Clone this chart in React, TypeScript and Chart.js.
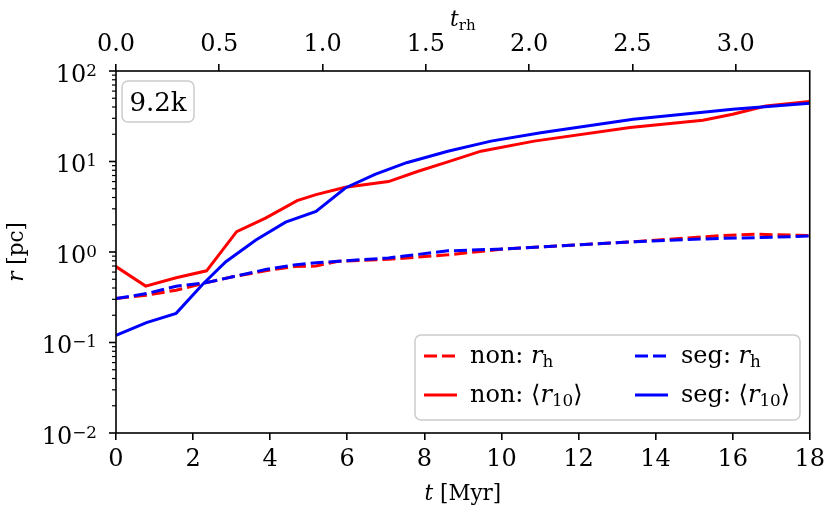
import { useEffect, useRef } from "react";
import { Chart, registerables } from "chart.js";

Chart.register(...registerables);

const FONT = '"DejaVu Serif"';
const T_RH = 5.36; // Myr per relaxation time (top axis)

// non-segregated: half-mass radius r_h
const nonRhTime = [0, 0.79, 1.56, 2.32, 3.0, 3.88, 4.62, 5.19, 5.77, 7.07, 8.61, 10.05, 13.45, 15.75, 16.6, 18];
const nonRh = [0.306, 0.333, 0.378, 0.456, 0.53, 0.62, 0.69, 0.7, 0.79, 0.83, 0.93, 1.08, 1.3, 1.52, 1.57, 1.52];

// non-segregated: <r_10>
const nonR10Time = [0, 0.77, 1.56, 2.35, 3.13, 3.88, 4.7, 5.19, 5.95, 7.07, 7.84, 8.61, 9.47, 10.85, 13.34, 15.23, 16.0, 16.86, 18];
const nonR10 = [0.69, 0.42, 0.52, 0.62, 1.68, 2.37, 3.69, 4.3, 5.2, 6.0, 7.8, 9.9, 13, 16.8, 23.7, 28.5, 33.3, 41, 46];

// segregated: r_h
const segRhTime = [0, 0.79, 1.56, 2.32, 3.0, 3.88, 4.62, 5.19, 5.77, 7.07, 8.61, 10.05, 13.45, 15.75, 16.6, 18];
const segRh = [0.306, 0.347, 0.419, 0.456, 0.53, 0.64, 0.72, 0.76, 0.79, 0.86, 1.03, 1.08, 1.3, 1.42, 1.44, 1.5];

// segregated: <r_10>
const segR10Time = [0, 0.79, 1.56, 2.25, 2.85, 3.63, 4.4, 5.19, 5.95, 6.72, 7.54, 8.61, 9.73, 11.02, 13.42, 16.0, 18];
const segR10 = [0.12, 0.166, 0.21, 0.44, 0.78, 1.36, 2.14, 2.8, 5.1, 7.2, 9.7, 13, 16.8, 20.8, 29.3, 37.8, 44];

const yDecades = [-2, -1, 0, 1, 2];

const TICK = 24;
const LABEL = 21.5;
const LEG = 24;
const DASH = [13, 5];

type Part = { text: string; italic?: boolean; size?: number; dy?: number };

// draw a run of text pieces (for math-like labels)
function measure(ctx: CanvasRenderingContext2D, parts: Part[], size: number) {
  let total = 0;
  for (const p of parts) {
    ctx.font = `${p.italic ? "italic " : ""}${p.size ?? size}px ${FONT}`;
    total += ctx.measureText(p.text).width;
  }
  return total;
}

function drawRich(ctx: CanvasRenderingContext2D, x: number, y: number, parts: Part[], size: number, align: "left" | "center" | "right") {
  const total = measure(ctx, parts, size);
  let cx = align === "left" ? x : align === "center" ? x - total / 2 : x - total;
  ctx.textAlign = "left";
  ctx.textBaseline = "alphabetic";
  for (const p of parts) {
    ctx.font = `${p.italic ? "italic " : ""}${p.size ?? size}px ${FONT}`;
    ctx.fillText(p.text, cx, y + (p.dy ?? 0));
    cx += ctx.measureText(p.text).width;
  }
}

const sub = LEG * 0.7;
const rh = (label: string): Part[] => [
  { text: label },
  { text: "r", italic: true },
  { text: "h", size: sub, dy: 4 },
];
const r10 = (label: string): Part[] => [
  { text: label + "\u27E8" },
  { text: "r", italic: true },
  { text: "10", size: sub, dy: 4 },
  { text: "\u27E9" },
];

const decor = {
  id: "decor",
  afterDraw(chart: Chart) {
    const { ctx, chartArea: a } = chart;
    const y = chart.scales.y;
    ctx.save();
    ctx.fillStyle = "#000";
    ctx.strokeStyle = "#000";

    // y ticks, major and minor, with 10^n labels
    for (const d of yDecades) {
      const py = y.getPixelForValue(Math.pow(10, d));
      ctx.lineWidth = 1.6;
      ctx.beginPath();
      ctx.moveTo(a.left - 7, py);
      ctx.lineTo(a.left, py);
      ctx.stroke();
      const exp: Part[] = [{ text: d < 0 ? "\u2212" + -d : String(d), size: TICK * 0.7 }];
      const ew = measure(ctx, exp, TICK);
      const right = a.left - 19;
      drawRich(ctx, right - ew, py + 7.5 - 3, exp, TICK, "left");
      drawRich(ctx, right - ew, py + 10.5, [{ text: "10" }], TICK, "right");
      if (d < 2) {
        ctx.lineWidth = 1.2;
        for (let m = 2; m <= 9; m++) {
          const pm = y.getPixelForValue(m * Math.pow(10, d));
          ctx.beginPath();
          ctx.moveTo(a.left - 4, pm);
          ctx.lineTo(a.left, pm);
          ctx.stroke();
        }
      }
    }

    // frame
    ctx.lineWidth = 1.6;
    ctx.strokeRect(a.left, a.top, a.right - a.left, a.bottom - a.top);

    // axis titles
    const cx = (a.left + a.right) / 2;
    drawRich(ctx, cx, 500, [{ text: "t", italic: true }, { text: " [Myr]" }], LABEL, "center");
    drawRich(ctx, cx, 26, [{ text: "t", italic: true }, { text: "rh", size: LABEL * 0.7, dy: 4 }], LABEL, "center");
    ctx.save();
    ctx.translate(23, (a.top + a.bottom) / 2);
    ctx.rotate(-Math.PI / 2);
    drawRich(ctx, 0, 0, [{ text: "r", italic: true }, { text: " [pc]" }], LABEL, "center");
    ctx.restore();

    // run label box
    ctx.beginPath();
    ctx.roundRect(a.left + 6, a.top + 10, 72, 41, 6);
    ctx.fillStyle = "rgba(255,255,255,0.8)";
    ctx.fill();
    ctx.strokeStyle = "#cccccc";
    ctx.lineWidth = 1.5;
    ctx.stroke();
    ctx.fillStyle = "#000";
    drawRich(ctx, a.left + 42, a.top + 40, [{ text: "9.2k" }], 26, "center");

    // legend
    const lx = 415, ly = 335;
    ctx.beginPath();
    ctx.roundRect(lx, ly, 385, 85, 6);
    ctx.fillStyle = "rgba(255,255,255,0.8)";
    ctx.fill();
    ctx.strokeStyle = "#cccccc";
    ctx.lineWidth = 1.5;
    ctx.stroke();
    const entries = [
      { col: 0, row: 0, color: "#ff0000", dash: DASH, parts: rh("non: ") },
      { col: 0, row: 1, color: "#ff0000", dash: [], parts: r10("non: ") },
      { col: 1, row: 0, color: "#0000ff", dash: DASH, parts: rh("seg: ") },
      { col: 1, row: 1, color: "#0000ff", dash: [], parts: r10("seg: ") },
    ];
    for (const e of entries) {
      const ex = lx + 9 + e.col * 211;
      const ey = ly + 21 + e.row * 39;
      ctx.strokeStyle = e.color;
      ctx.lineWidth = 3;
      ctx.setLineDash(e.dash);
      ctx.beginPath();
      ctx.moveTo(ex, ey);
      ctx.lineTo(ex + 33, ey);
      ctx.stroke();
      ctx.setLineDash([]);
      ctx.fillStyle = "#000";
      drawRich(ctx, ex + 46, ey + 7, e.parts, LEG, "left");
    }
    ctx.restore();
  },
};

const series = (t: number[], v: number[]) => t.map((x, i) => ({ x, y: v[i] }));

export default function App() {
  const canvasRef = useRef<HTMLCanvasElement>(null);

  useEffect(() => {
    document.body.style.margin = "0";
    const ctx = canvasRef.current?.getContext("2d");
    if (!ctx) return;

    const chart = new Chart(ctx, {
      type: "line",
      data: {
        datasets: [
          { label: "non: r_h", data: series(nonRhTime, nonRh), borderColor: "#ff0000", borderDash: DASH, order: 2 },
          { label: "non: <r_10>", data: series(nonR10Time, nonR10), borderColor: "#ff0000", order: 2 },
          { label: "seg: r_h", data: series(segRhTime, segRh), borderColor: "#0000ff", borderDash: DASH, order: 1 },
          { label: "seg: <r_10>", data: series(segR10Time, segR10), borderColor: "#0000ff", order: 1 },
        ],
      },
      options: {
        responsive: false,
        animation: false,
        layout: { padding: { left: 0, right: 16, top: 0, bottom: 0 } },
        elements: {
          point: { radius: 0 },
          line: { borderWidth: 3, tension: 0, fill: false },
        },
        plugins: { legend: { display: false }, tooltip: { enabled: false } },
        scales: {
          x: {
            type: "linear",
            position: "bottom",
            min: 0,
            max: 18,
            afterFit: (s) => { s.height = 82; },
            grid: { drawOnChartArea: false, tickLength: 7, color: "#000", lineWidth: 1.6 },
            border: { display: false },
            ticks: { stepSize: 2, padding: 5, color: "#000", font: { family: FONT, size: TICK } },
          },
          x2: {
            type: "linear",
            position: "top",
            min: 0,
            max: 18 / T_RH,
            afterFit: (s) => { s.height = 71; },
            grid: { drawOnChartArea: false, tickLength: 7, color: "#000", lineWidth: 1.6 },
            border: { display: false },
            ticks: {
              stepSize: 0.5,
              includeBounds: false,
              padding: 5,
              color: "#000",
              font: { family: FONT, size: TICK },
              callback: (v) => Number(v).toFixed(1),
            },
          },
          y: {
            type: "logarithmic",
            min: 0.01,
            max: 100,
            afterFit: (s) => { s.width = 116; },
            grid: { display: false },
            border: { display: false },
            ticks: { display: false },
          },
        },
      },
      plugins: [decor],
    });

    return () => chart.destroy();
  }, []);

  return (
    <div style={{ width: 830, height: 515 }}>
      <canvas ref={canvasRef} width={830} height={515}></canvas>
    </div>
  );
}
